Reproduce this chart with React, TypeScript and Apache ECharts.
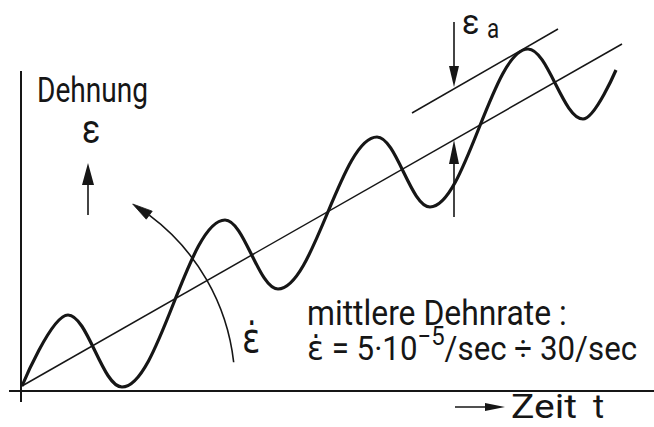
import React, { useEffect, useRef } from "react";
import * as echarts from "echarts";

const INK = "#161616";
const FONT = "Roboto, 'DejaVu Sans', sans-serif";

// Drawing units: time t to the right, strain ε upwards (1 unit = 1 px)
const T_MIN = -22;
const T_MAX = 632;
const E_MIN = -41;
const E_MAX = 386;

// Oscillating strain: turning points of the wave about the mean ramp
const waveT = [0, 46, 100, 203, 256, 355, 408, 506, 561, 594];
const waveE = [0, 71, -1, 166, 97, 249, 179, 337, 267, 316];

// Mean strain ramp (mittlere Dehnrate)
const rampT = [0, 600];
const rampE = [0, 342];

// Upper envelope, parallel to the ramp at distance ε_a
const envelopeT = [390, 536];
const envelopeE = [273, 357];

// Axis lines
const timeAxisT = [-13, 632];
const timeAxisE = [-5, -5];
const strainAxisT = [-1, -1];
const strainAxisE = [-16, 315];

// Rate arc around the origin: radius and angular span (degrees, from the t axis)
const rateArcRadius = 213;
const rateArcFromDeg = 6.4;
const rateArcTipDeg = 58.7;

type Arrow = { from: number[]; tip: number[]; w: number; h: number };

// Straight arrows: ε_a markers, strain direction, time direction
const arrows: Arrow[] = [
  { from: [432, 364], tip: [432, 299], w: 10, h: 21 },
  { from: [432, 169], tip: [432, 246], w: 10, h: 24 },
  { from: [66, 171], tip: [66, 223], w: 12, h: 22 },
  { from: [433, -21], tip: [483, -21], w: 8, h: 20 },
];

const zip = (a: number[], b: number[]) => a.map((v, i) => [v, b[i]]);

function arrowItem(a: Arrow) {
  const dx = a.tip[0] - a.from[0];
  const dy = a.tip[1] - a.from[1];
  const len = Math.hypot(dx, dy);
  // the head is centred on the end point, so pull the end back by half its length
  const end = [a.tip[0] - (dx / len) * (a.h / 2), a.tip[1] - (dy / len) * (a.h / 2)];
  return [
    { coord: a.from, symbol: "none" },
    { coord: end, symbol: "triangle", symbolSize: [a.w, a.h] },
  ];
}

function label(
  text: string,
  x: number,
  baseline: number,
  size: number,
  sx: number,
  lineHeight?: number
) {
  return {
    type: "text",
    x,
    y: baseline - 0.34 * size,
    scaleX: sx,
    silent: true,
    style: {
      text,
      fill: INK,
      fontFamily: FONT,
      fontSize: size,
      lineHeight: lineHeight || size,
      align: "left",
      verticalAlign: "middle",
    },
  };
}

export default function App() {
  const ref = useRef<HTMLDivElement>(null);

  useEffect(() => {
    if (!ref.current) return;
    const chart = echarts.init(ref.current, null, { renderer: "svg" });

    const line = (data: number[][], width: number, extra: any = {}) => ({
      type: "line",
      data,
      symbol: "none",
      silent: true,
      lineStyle: { color: INK, width },
      ...extra,
    });

    // circular arc centred on the origin with an arrow head at its upper end
    const renderRateArc = (_params: any, api: any) => {
      const c = api.coord([0, 0]);
      const r = api.size([rateArcRadius, 0])[0];
      const headLen = 20;
      const headW = 10;
      const tip = (rateArcTipDeg * Math.PI) / 180;
      const base = tip - headLen / r;
      const from = (rateArcFromDeg * Math.PI) / 180;
      const at = (a: number, rr: number) => [c[0] + rr * Math.cos(a), c[1] - rr * Math.sin(a)];
      return {
        type: "group",
        children: [
          {
            type: "arc",
            shape: { cx: c[0], cy: c[1], r, startAngle: -base, endAngle: -from, clockwise: true },
            style: { stroke: INK, fill: null, lineWidth: 1.6 },
          },
          {
            type: "polygon",
            shape: { points: [at(tip, r), at(base, r - headW / 2), at(base, r + headW / 2)] },
            style: { fill: INK, stroke: INK, lineWidth: 0.8 },
          },
        ],
      };
    };

    chart.setOption({
      animation: false,
      backgroundColor: "#ffffff",
      color: [INK],
      grid: { left: 0, right: 0, top: 0, bottom: 0 },
      xAxis: { type: "value", min: T_MIN, max: T_MAX, show: false },
      yAxis: { type: "value", min: E_MIN, max: E_MAX, show: false },
      series: [
        line(zip(timeAxisT, timeAxisE), 2),
        line(zip(strainAxisT, strainAxisE), 2),
        line(zip(rampT, rampE), 1.5, {
          markLine: {
            silent: true,
            animation: false,
            symbol: ["none", "triangle"],
            label: { show: false },
            emphasis: { disabled: true },
            itemStyle: { color: INK },
            lineStyle: { color: INK, width: 1.6, type: "solid" },
            data: arrows.map(arrowItem),
          },
        }),
        line(zip(envelopeT, envelopeE), 1.5),
        line(zip(waveT, waveE), 3.2, { smooth: 0.36, smoothMonotone: "x" }),
        {
          type: "custom",
          silent: true,
          clip: false,
          data: [[0, 0]],
          renderItem: renderRateArc,
        },
      ],
      graphic: [
        label("Dehnung", 37, 102, 36, 0.78),
        label("ε", 82, 143, 40, 0.85),
        label("ε", 462, 34, 36, 0.9),
        label("a", 487, 38, 28, 0.8),
        label("\u03B5\u0307", 242, 352, 40, 0.85),
        label("mittlere Dehnrate :", 307, 325, 35, 0.91),
        {
          type: "text",
          x: 307,
          y: 360 - 0.34 * 34,
          scaleX: 0.92,
          silent: true,
          style: {
            text: "\u03B5\u0307 = 5·10{sup|−5}/sec ÷ 30/sec",
            fill: INK,
            fontFamily: FONT,
            fontSize: 34,
            lineHeight: 50,
            align: "left",
            verticalAlign: "middle",
            rich: {
              sup: { fontSize: 26, lineHeight: 26, verticalAlign: "top", fill: INK, fontFamily: FONT },
            },
          },
        },
        label("Zeit", 511, 418, 34, 1.15),
        label("t", 593, 418, 34, 1.0),
      ],
    });

    return () => chart.dispose();
  }, []);

  return (
    <div
      ref={ref}
      style={{ position: "fixed", left: 0, top: 0, width: 654, height: 427, background: "#fff" }}
    />
  );
}
